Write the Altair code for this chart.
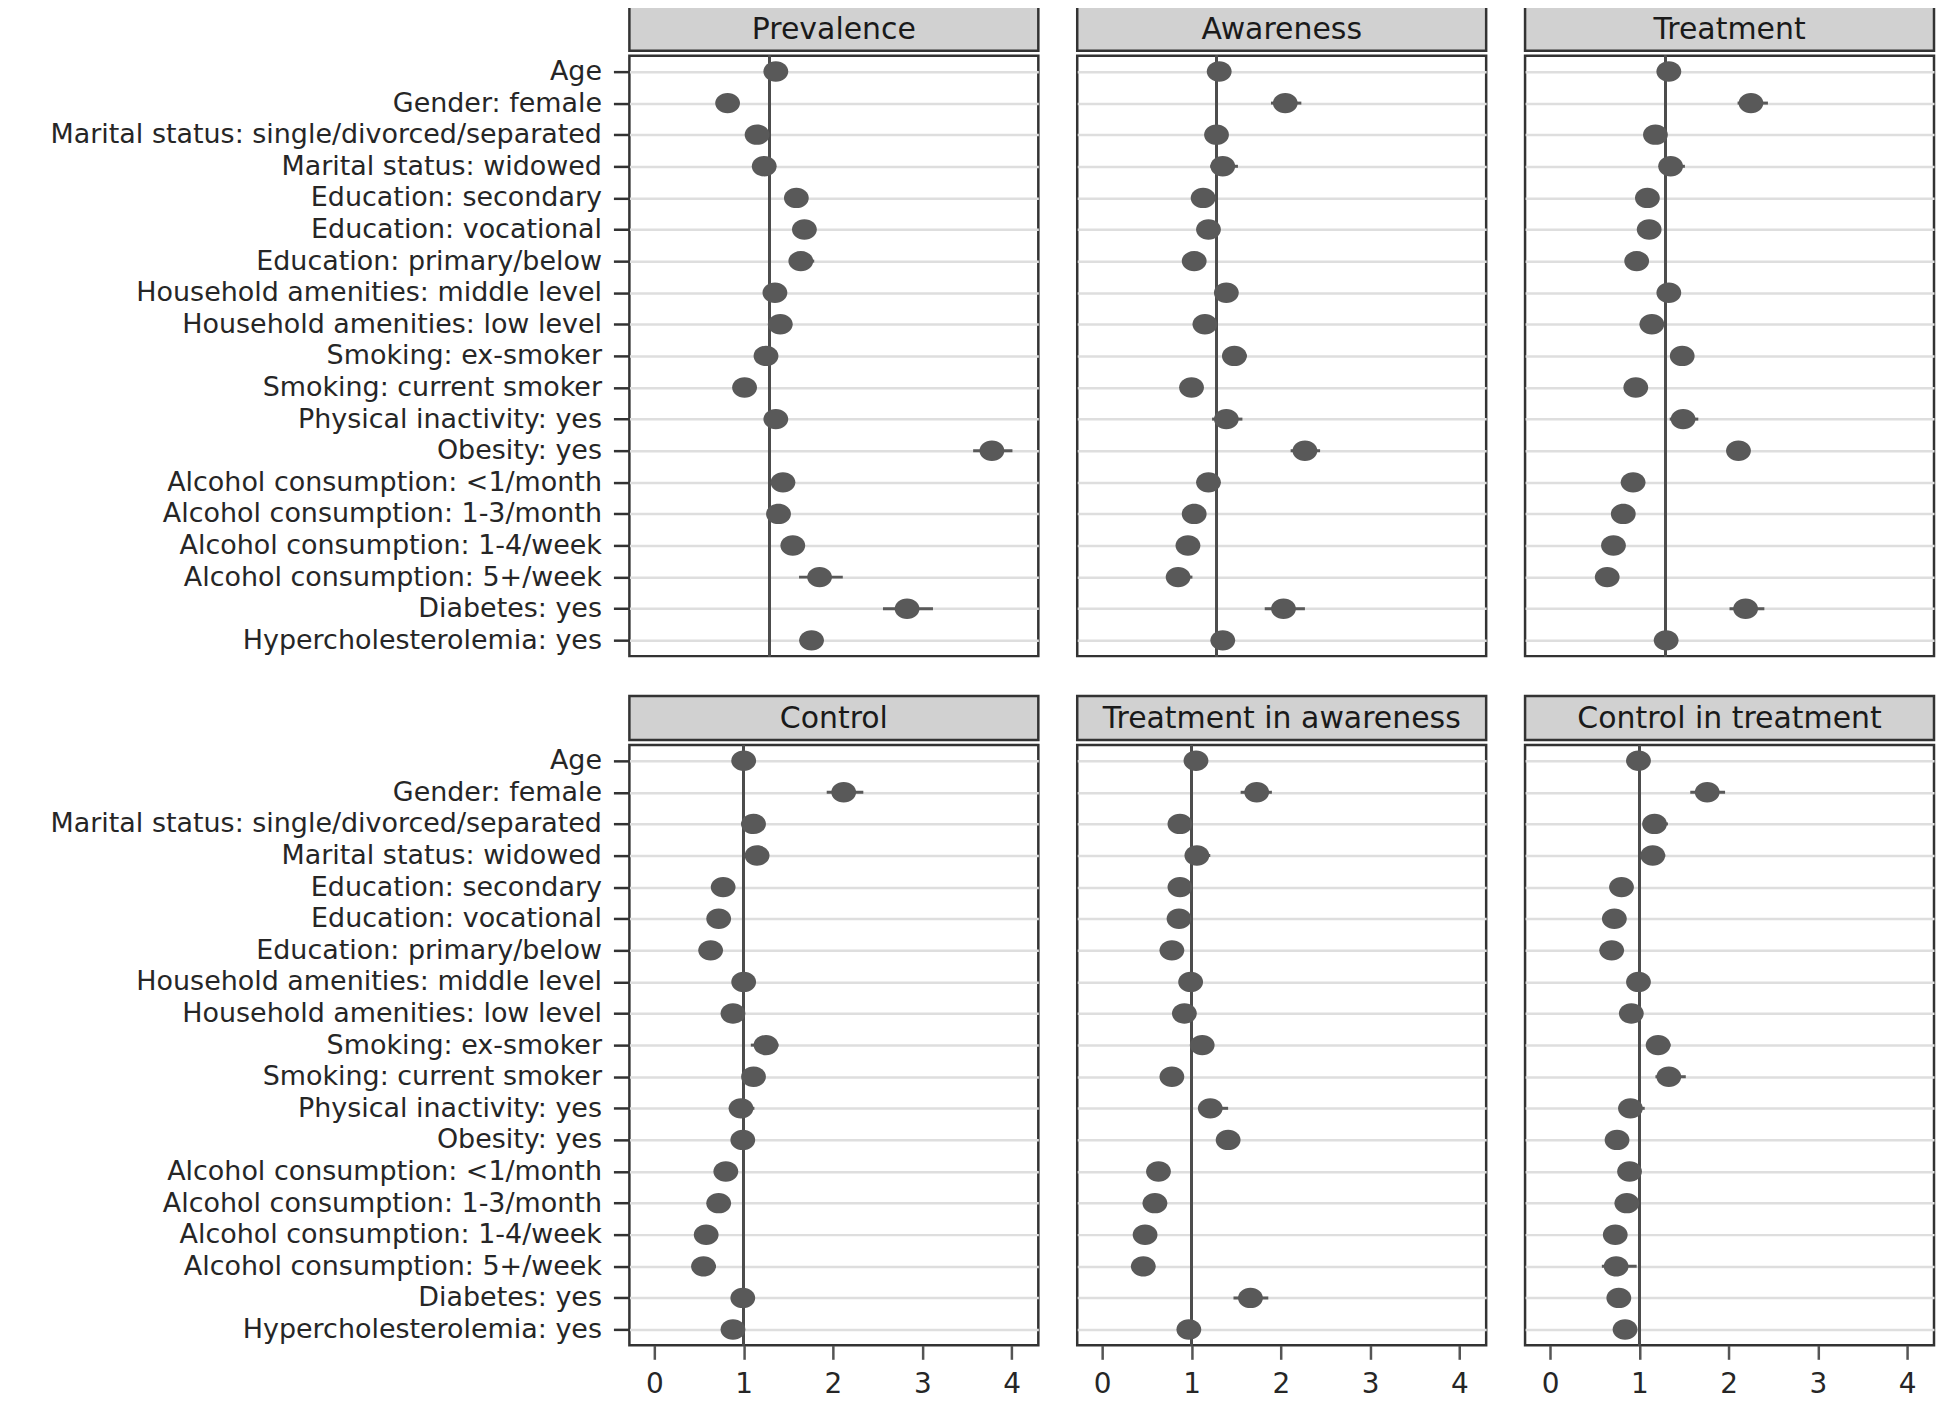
import altair as alt
import pandas as pd

labels = [
    "Age", "Gender: female", "Marital status: single/divorced/separated",
    "Marital status: widowed", "Education: secondary", "Education: vocational",
    "Education: primary/below", "Household amenities: middle level",
    "Household amenities: low level", "Smoking: ex-smoker", "Smoking: current smoker",
    "Physical inactivity: yes", "Obesity: yes", "Alcohol consumption: <1/month",
    "Alcohol consumption: 1-3/month", "Alcohol consumption: 1-4/week",
    "Alcohol consumption: 5+/week", "Diabetes: yes", "Hypercholesterolemia: yes",
]

outcomes = ["Prevalence", "Awareness", "Treatment",
            "Control", "Treatment in awareness", "Control in treatment"]
ref_lines = [1.29, 1.28, 1.29, 1.0, 1.0, 1.0]

prev_or = [1.36, 0.82, 1.15, 1.23, 1.59, 1.68, 1.64, 1.35, 1.41, 1.25, 1.01, 1.36, 3.78, 1.44, 1.39, 1.55, 1.85, 2.83, 1.76]
prev_lo = [1.31, 0.77, 1.08, 1.14, 1.51, 1.59, 1.51, 1.28, 1.33, 1.18, 0.95, 1.29, 3.57, 1.36, 1.32, 1.46, 1.62, 2.56, 1.67]
prev_hi = [1.41, 0.87, 1.22, 1.33, 1.68, 1.78, 1.79, 1.43, 1.50, 1.33, 1.08, 1.44, 4.01, 1.52, 1.47, 1.66, 2.11, 3.12, 1.86]

aw_or = [1.31, 2.05, 1.28, 1.35, 1.13, 1.19, 1.03, 1.39, 1.15, 1.48, 1.00, 1.39, 2.27, 1.19, 1.03, 0.96, 0.85, 2.03, 1.35]
aw_lo = [1.26, 1.89, 1.20, 1.21, 1.05, 1.08, 0.96, 1.30, 1.07, 1.36, 0.93, 1.23, 2.11, 1.08, 0.95, 0.88, 0.74, 1.82, 1.26]
aw_hi = [1.37, 2.23, 1.37, 1.52, 1.21, 1.28, 1.11, 1.48, 1.24, 1.62, 1.08, 1.57, 2.44, 1.28, 1.11, 1.05, 1.01, 2.27, 1.45]

tr_or = [1.33, 2.25, 1.18, 1.35, 1.09, 1.11, 0.97, 1.33, 1.14, 1.48, 0.96, 1.49, 2.11, 0.93, 0.82, 0.71, 0.64, 2.19, 1.30]
tr_lo = [1.27, 2.10, 1.09, 1.23, 1.01, 1.02, 0.89, 1.24, 1.05, 1.37, 0.88, 1.34, 1.99, 0.85, 0.74, 0.63, 0.56, 2.01, 1.21]
tr_hi = [1.39, 2.44, 1.27, 1.51, 1.17, 1.20, 1.05, 1.42, 1.23, 1.60, 1.04, 1.66, 2.24, 1.01, 0.90, 0.80, 0.73, 2.40, 1.39]

ct_or = [1.00, 2.12, 1.11, 1.15, 0.77, 0.72, 0.63, 1.00, 0.88, 1.25, 1.11, 0.97, 0.99, 0.80, 0.72, 0.58, 0.55, 0.99, 0.88]
ct_lo = [0.95, 1.93, 0.97, 1.04, 0.70, 0.65, 0.56, 0.92, 0.79, 1.08, 1.02, 0.86, 0.88, 0.72, 0.64, 0.51, 0.43, 0.88, 0.80]
ct_hi = [1.05, 2.34, 1.23, 1.27, 0.85, 0.80, 0.71, 1.09, 0.97, 1.39, 1.21, 1.12, 1.10, 0.89, 0.81, 0.66, 0.69, 1.12, 0.97]

tia_or = [1.05, 1.73, 0.87, 1.06, 0.87, 0.86, 0.78, 0.99, 0.92, 1.12, 0.78, 1.21, 1.41, 0.63, 0.59, 0.48, 0.46, 1.66, 0.97]
tia_lo = [0.98, 1.55, 0.80, 0.95, 0.80, 0.79, 0.71, 0.91, 0.84, 1.02, 0.71, 1.08, 1.29, 0.56, 0.52, 0.41, 0.39, 1.47, 0.89]
tia_hi = [1.12, 1.90, 0.95, 1.21, 0.95, 0.94, 0.86, 1.08, 1.00, 1.22, 0.86, 1.41, 1.53, 0.71, 0.67, 0.56, 0.54, 1.86, 1.05]

cit_or = [0.99, 1.76, 1.17, 1.15, 0.80, 0.72, 0.69, 0.99, 0.91, 1.21, 1.33, 0.90, 0.75, 0.89, 0.86, 0.73, 0.74, 0.77, 0.84]
cit_lo = [0.93, 1.57, 1.04, 1.04, 0.72, 0.64, 0.61, 0.91, 0.82, 1.08, 1.18, 0.78, 0.67, 0.80, 0.77, 0.65, 0.58, 0.69, 0.76]
cit_hi = [1.05, 1.96, 1.32, 1.29, 0.88, 0.80, 0.77, 1.08, 1.00, 1.35, 1.52, 1.06, 0.84, 0.98, 0.95, 0.82, 0.97, 0.86, 0.93]

series = [
    (prev_or, prev_lo, prev_hi), (aw_or, aw_lo, aw_hi), (tr_or, tr_lo, tr_hi),
    (ct_or, ct_lo, ct_hi), (tia_or, tia_lo, tia_hi), (cit_or, cit_lo, cit_hi),
]

FONT = "DejaVu Sans"
PW, PH, SH = 410, 602, 44
DOT = "#595959"
ELLIPSE = "M-1,0A1,0.82 0 1,0 1,0A1,0.82 0 1,0 -1,0Z"


def panel(i):
    name = outcomes[i]
    o, lo, hi = series[i]
    df = pd.DataFrame({"label": labels, "or": o, "lo": lo, "hi": hi})
    first = i % 3 == 0
    bottom = i >= 3

    if first:
        yaxis = alt.Axis(title=None, grid=True, gridColor="#dedede", gridWidth=2.5,
                         domain=False, tickSize=16, tickWidth=2.5, tickColor="#333333",
                         labelFontSize=27, labelColor="#262626", labelPadding=12,
                         labelFont=FONT, minExtent=621, maxExtent=621, labelLimit=0)
    else:
        yaxis = alt.Axis(title=None, grid=True, gridColor="#dedede", gridWidth=2.5,
                         domain=False, ticks=False, labels=False)
    if bottom:
        xaxis = alt.Axis(values=[0, 1, 2, 3, 4], title=None, grid=False, domain=False,
                         tickSize=14, tickWidth=2.5, tickColor="#555555",
                         labelFontSize=28, labelColor="#262626", labelPadding=11,
                         labelFont=FONT)
    else:
        xaxis = None

    xscale = alt.Scale(domain=[-0.28, 4.3], nice=False, zero=False)
    yenc = alt.Y("label:N", sort=labels,
                 scale=alt.Scale(type="point", padding=0.5), axis=yaxis)

    base = alt.Chart(df)
    ref = base.mark_rule(color="#4d4d4d", strokeWidth=2.5).encode(
        x=alt.datum(ref_lines[i], scale=xscale, axis=xaxis))
    ci = base.mark_rule(color=DOT, strokeWidth=3).encode(
        x=alt.X("lo:Q", scale=xscale, axis=xaxis), x2="hi:Q", y=yenc)
    pts = base.mark_point(filled=True, shape=ELLIPSE, size=620, opacity=1,
                          color=DOT).encode(
        x=alt.X("or:Q", scale=xscale, axis=xaxis), y=yenc)

    plot = alt.layer(ref, ci, pts).properties(width=PW, height=PH)

    strip = alt.Chart(pd.DataFrame({"t": [name]})).mark_text(
        fontSize=30, font=FONT, color="#1a1a1a", align="center", baseline="middle"
    ).encode(
        text="t:N", x=alt.value(PW / 2), y=alt.value(SH / 2 + 1)
    ).properties(
        width=PW, height=SH,
        view=alt.ViewBackground(fill="#d1d1d1", stroke="#333333", strokeWidth=2.5),
    )
    return alt.vconcat(strip, plot, spacing=0)


row1 = alt.hconcat(panel(0), panel(1), panel(2), spacing=35)
row2 = alt.hconcat(panel(3), panel(4), panel(5), spacing=35)

chart = alt.vconcat(row1, row2, spacing=35).properties(
    padding={"left": 0, "top": -5, "right": 0, "bottom": 0}
).configure(font=FONT).configure_view(
    stroke="#333333", strokeWidth=2.5, fill="white"
).configure_concat(spacing=0)

chart.save("out.html", embed_options={"renderer": "svg", "actions": False})
